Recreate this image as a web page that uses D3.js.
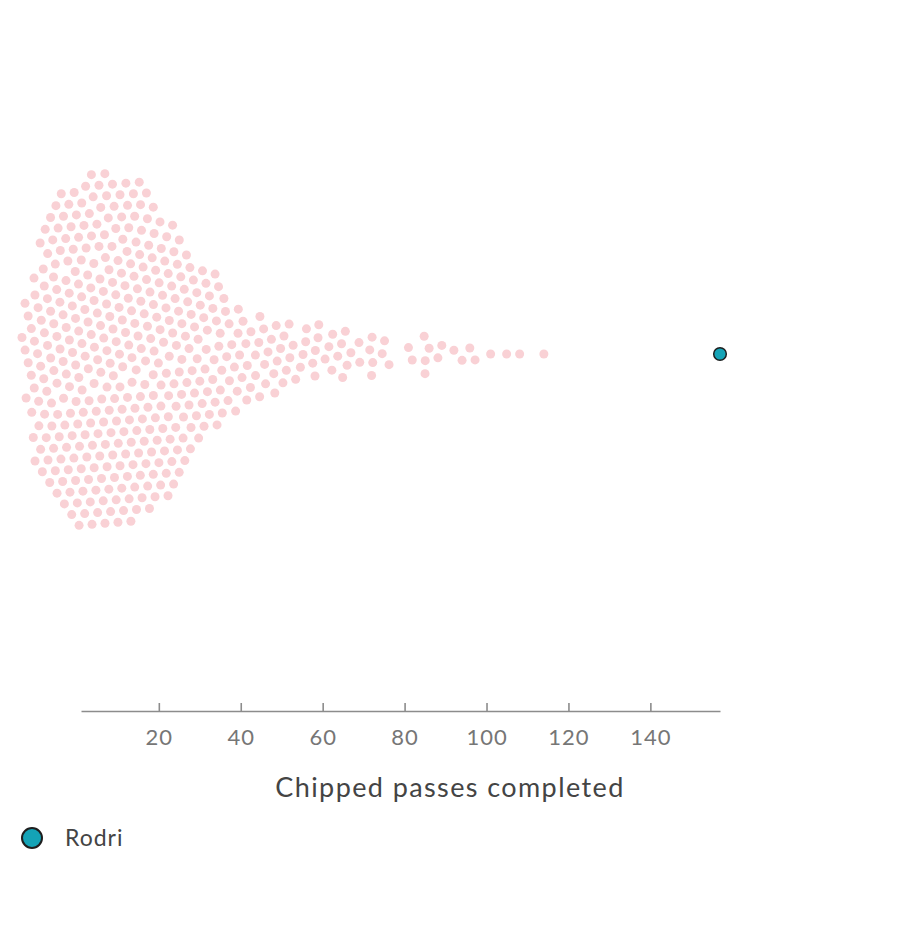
<!DOCTYPE html>
<html>
<head>
<meta charset="utf-8">
<script src="https://cdn.jsdelivr.net/npm/d3@7"></script>
<style>
  body { margin: 0; background: #fff; }
  text { font-family: Lato, "Open Sans", sans-serif; }
</style>
</head>
<body>
<div id="container"></div>
<script>
// Count of players for each value 1..39 (dense part of the swarm)
var lowValues = d3.range(1, 40);
var lowCounts = [40, 22, 22, 24, 26, 26, 25, 22, 20, 16,
                 12, 11, 10, 9, 8, 7, 7, 6, 6, 6,
                 5, 5, 5, 4, 4, 4, 4, 4, 4, 4,
                 3, 3, 3, 3, 3, 3, 2, 2, 2];

// Individual players from 40 upwards
var tailValues = [40, 40, 40, 41, 42, 42, 42, 43, 44,
                  45, 45, 45, 45, 46, 46, 47,
                  48, 48, 49, 49, 49, 50, 50,
                  50, 51, 52, 52, 53,
                  56, 56, 56, 56, 57,
                  58, 58, 58, 59, 59,
                  62, 62, 63, 63, 65, 65, 65, 66, 66,
                  69, 69, 72, 72, 72, 72, 74, 75, 76,
                  81, 82, 85, 85, 86, 86, 87, 89, 92, 94, 96, 97, 101, 105, 108, 114];

// Highlighted player
var highlightName = "Rodri";
var highlightValue = 157;

var tickValues = [20, 40, 60, 80, 100, 120, 140];
var axisTitle = "Chipped passes completed";

var width = 900;
var height = 948;
var margin = {left: 81, right: 180};
var centerY = 354;
var axisY = 711;
var dotRadius = 4.5;
var collideRadius = 6.5;

// Expand the counts into one point per player
var players = [];
lowValues.forEach(function(v, i) {
  d3.range(lowCounts[i]).forEach(function() { players.push({value: v, highlight: false}); });
});
tailValues.forEach(function(v) { players.push({value: v, highlight: false}); });
players.push({value: highlightValue, highlight: true, name: highlightName});

var svg = d3.select("#container")
            .append("svg")
            .attr("width", width)
            .attr("height", height);

var xScale = d3.scaleLinear()
               .domain(d3.extent(players, (d) => d.value))
               .range([margin.left, width - margin.right]);

players.forEach(function(d) { d.x = xScale(d.value); d.y = centerY; });

// Beeswarm layout, run long enough to settle
var nTicks = 900;
var simulation = d3.forceSimulation(players)
                   .force("x", d3.forceX((d) => xScale(d.value)).strength(0.8))
                   .force("y", d3.forceY(centerY).strength(0.1))
                   .force("collide", d3.forceCollide(collideRadius).iterations(3))
                   .alphaDecay(1 - Math.pow(0.001, 1 / nTicks))
                   .stop();
for (var i = 0; i < nTicks; i++) simulation.tick();

// Everyone else in light pink
svg.append("g")
   .selectAll("circle")
   .data(players.filter((d) => !d.highlight))
   .enter()
   .append("circle")
   .attr("cx", (d) => d.x)
   .attr("cy", (d) => d.y)
   .attr("r", dotRadius)
   .attr("fill", "#f9d1d5");

// Highlighted player on top
svg.append("g")
   .selectAll("circle")
   .data(players.filter((d) => d.highlight))
   .enter()
   .append("circle")
   .attr("cx", (d) => d.x)
   .attr("cy", (d) => d.y)
   .attr("r", 6.3)
   .attr("fill", "#14a3b6")
   .attr("stroke", "#1e1e1e")
   .attr("stroke-width", 1.5);

// Axis with ticks pointing up
var xAxis = d3.axisBottom(xScale)
              .tickValues(tickValues)
              .tickSizeInner(-8)
              .tickSizeOuter(0)
              .tickPadding(18);

var axis = svg.append("g")
              .attr("transform", "translate(0," + axisY + ")")
              .call(xAxis);
axis.select(".domain").attr("stroke", "#8c8c8c").attr("stroke-width", 1.6);
axis.selectAll(".tick line").attr("stroke", "#8c8c8c").attr("stroke-width", 1.6);
axis.selectAll(".tick text")
    .attr("fill", "#767676")
    .style("font-family", "Lato, sans-serif")
    .style("font-size", "22px")
    .style("letter-spacing", "1px");

svg.append("text")
   .attr("x", width / 2)
   .attr("y", 797)
   .attr("text-anchor", "middle")
   .attr("fill", "#444")
   .style("font-size", "27px")
   .style("letter-spacing", "1.4px")
   .text(axisTitle);

// Legend
var legend = svg.append("g").attr("transform", "translate(32,838)");
legend.append("circle")
      .attr("r", 10)
      .attr("fill", "#14a3b6")
      .attr("stroke", "#1e1e1e")
      .attr("stroke-width", 2);
legend.append("text")
      .attr("x", 33)
      .attr("dy", "0.35em")
      .attr("fill", "#444")
      .style("font-size", "23px")
      .style("letter-spacing", "1px")
      .text(highlightName);
</script>
</body>
</html>
